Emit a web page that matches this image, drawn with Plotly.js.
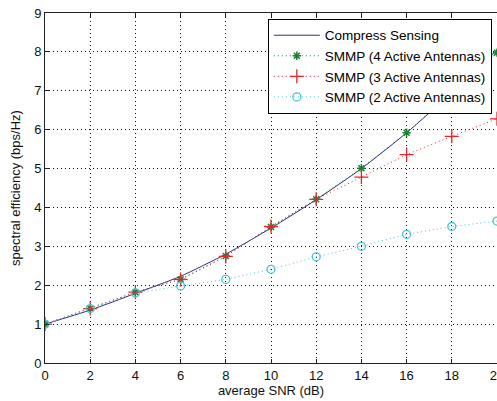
<!DOCTYPE html>
<html>
<head>
<meta charset="utf-8">
<script src="https://cdn.plot.ly/plotly-3.0.1.min.js"></script>
<style>html,body{margin:0;padding:0;background:#fff;}#chart{width:497px;height:401px;}</style>
</head>
<body>
<div id="chart"></div>
<script>
var snr = [0, 2, 4, 6, 8, 10, 12, 14, 16, 18, 20];
var compressSensing = [1.0, 1.36, 1.79, 2.23, 2.8, 3.47, 4.2, 5.0, 5.92, 6.95, 8.05];
var smmp4 = [1.0, 1.40, 1.82, 2.15, 2.75, 3.50, 4.21, 5.01, 5.92, 6.95, 7.98];
var smmp3 = [1.0, 1.40, 1.82, 2.15, 2.74, 3.51, 4.21, 4.78, 5.36, 5.83, 6.28];
var smmp2 = [1.0, 1.40, 1.80, 1.98, 2.15, 2.41, 2.73, 3.00, 3.31, 3.51, 3.65];
var seriesNames = ['Compress Sensing', 'SMMP (4 Active Antennas)', 'SMMP (3 Active Antennas)', 'SMMP (2 Active Antennas)'];
var xTicks = [0, 2, 4, 6, 8, 10, 12, 14, 16, 18, 20];
var yTicks = [0, 1, 2, 3, 4, 5, 6, 7, 8, 9];

var FONT = 'Liberation Sans, Arial, sans-serif';
var DOT = '1px,3px';

var traces = [
  {x: snr, y: compressSensing, name: seriesNames[0], mode: 'lines',
   line: {color: '#2e2e86', width: 1, shape: 'spline', smoothing: 0.6}},
  {x: snr, y: smmp4, name: seriesNames[1], mode: 'lines+markers',
   line: {color: '#1c8034', width: 1, dash: DOT},
   marker: {symbol: 'asterisk-open', size: 7, color: '#1c8034', line: {color: '#1c8034', width: 1.5}}},
  {x: snr, y: smmp3, name: seriesNames[2], mode: 'lines+markers',
   line: {color: '#e0282a', width: 1, dash: DOT},
   marker: {symbol: 'cross-thin-open', size: 10, color: '#e0282a', line: {color: '#e0282a', width: 1.3}}},
  {x: snr, y: smmp2, name: seriesNames[3], mode: 'lines+markers',
   line: {color: '#48c4d4', width: 1, dash: DOT},
   marker: {symbol: 'circle-open', size: 8, color: '#48c4d4', line: {color: '#48c4d4', width: 1.3}}}
];

var layout = {
  width: 497, height: 401,
  margin: {l: 45, r: 0, t: 13, b: 38, pad: 0},
  paper_bgcolor: '#fff', plot_bgcolor: '#fff',
  font: {family: FONT, size: 13, color: '#000'},
  showlegend: true,
  legend: {x: 0.493, y: 0.983, xanchor: 'left', yanchor: 'top',
           bgcolor: '#fff', bordercolor: '#000', borderwidth: 1,
           font: {family: FONT, size: 13.5, color: '#000'},
           itemwidth: 46, tracegroupgap: 0},
  xaxis: {range: [0, 20], tickvals: xTicks, ticktext: xTicks.map(String),
          showline: true, linecolor: '#222', linewidth: 1, mirror: 'ticks',
          ticks: 'inside', ticklen: 4, tickcolor: '#222',
          showgrid: true, gridcolor: '#111', gridwidth: 1, griddash: DOT,
          zeroline: false, ticklabeloverflow: 'allow',
          tickfont: {family: FONT, size: 13, color: '#111'},
          title: {text: 'average SNR (dB)', font: {family: FONT, size: 13, color: '#111'}, standoff: 2}},
  yaxis: {range: [0, 9], tickvals: yTicks, ticktext: yTicks.map(String),
          showline: true, linecolor: '#222', linewidth: 1, mirror: false,
          ticks: 'inside', ticklen: 4, tickcolor: '#222',
          showgrid: true, gridcolor: '#111', gridwidth: 1, griddash: DOT,
          zeroline: false,
          tickfont: {family: FONT, size: 13, color: '#111'},
          title: {text: 'spectral efficiency (bps/Hz)', font: {family: FONT, size: 13, color: '#111'}, standoff: 10}}
};

Plotly.newPlot('chart', traces, layout, {displayModeBar: false, responsive: false});
</script>
</body>
</html>
